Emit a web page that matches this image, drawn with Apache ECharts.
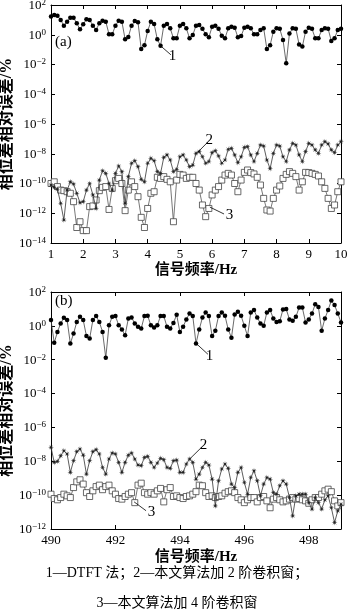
<!DOCTYPE html>
<html><head><meta charset="utf-8">
<script src="https://cdn.jsdelivr.net/npm/echarts@6/dist/echarts.min.js"></script>
<style>html,body{margin:0;padding:0;background:#fff}#c{width:350px;height:615px}</style>
</head><body><div id="c"></div>
<script>
// ---- frequencies (Hz) ----
const freqA = [1,1.1,1.2,1.3,1.4,1.5,1.6,1.7,1.8,1.9,2,2.1,2.2,2.3,2.4,2.5,2.6,2.7,2.8,2.9,3,3.1,3.2,3.3,3.4,3.5,3.6,3.7,3.8,3.9,4,4.1,4.2,4.3,4.4,4.5,4.6,4.7,4.8,4.9,5,5.1,5.2,5.3,5.4,5.5,5.6,5.7,5.8,5.9,6,6.1,6.2,6.3,6.4,6.5,6.6,6.7,6.8,6.9,7,7.1,7.2,7.3,7.4,7.5,7.6,7.7,7.8,7.9,8,8.1,8.2,8.3,8.4,8.5,8.6,8.7,8.8,8.9,9,9.1,9.2,9.3,9.4,9.5,9.6,9.7,9.8,9.9,10];
const freqB = [490,490.1,490.2,490.3,490.4,490.5,490.6,490.7,490.8,490.9,491,491.1,491.2,491.3,491.4,491.5,491.6,491.7,491.8,491.9,492,492.1,492.2,492.3,492.4,492.5,492.6,492.7,492.8,492.9,493,493.1,493.2,493.3,493.4,493.5,493.6,493.7,493.8,493.9,494,494.1,494.2,494.3,494.4,494.5,494.6,494.7,494.8,494.9,495,495.1,495.2,495.3,495.4,495.5,495.6,495.7,495.8,495.9,496,496.1,496.2,496.3,496.4,496.5,496.6,496.7,496.8,496.9,497,497.1,497.2,497.3,497.4,497.5,497.6,497.7,497.8,497.9,498,498.1,498.2,498.3,498.4,498.5,498.6,498.7,498.8,498.9,499];

// ---- panel (a): relative error of phase difference (%) ----
const dtftA = [17,21,19,9.8,4.1,7.6,14,14,5.9,2.3, 5.0,11,9.8,4.1,2.1,5.9,8.9,7.6,1.1,1.07, 4.1,8.9,7.6,0.49,0.71,4.1,8.3,6.8,0.11,0.2, 1.8,7.6,5.2,0.49,0.18,4.1,5.2,2.7,0.58,0.58, 4.1,5.2,2.7,0.58,0.95,4.1,4.5,2.5,1.07,0.68, 3.5,4.1,2.5,0.87,0.58,2.7,3.5,3.0,0.68,0.81, 3.0,3.5,2.7,1.1,1.07,2.1,2.7,0.11,0.2,1.6, 2.7,2.5,0.45,0.012,1.2,2.7,2.5,0.22,0.16,1.6, 3.0,2.5,0.58,0.58,2.1,2.7,2.5,0.38,0.58,2.1,2.5];
const win2A = [7.9e-11,5.5e-11,4.1e-11,4.7e-12,3.5e-13,3.6e-11,1.3e-10,9.3e-11,2.2e-11,5.1e-12, 6.0e-12,3.6e-11,1.0e-10,1.7e-11,2.1e-12,1.7e-10,7.2e-10,4.8e-10,1.0e-10,3.6e-11, 4.8e-10,1.5e-9,6.3e-10,4.7e-12,2.9e-10,2.3e-9,3.4e-9,1.35e-9,1.9e-10,1.3e-10, 2.3e-9,4.9e-9,3.4e-9,6.3e-10,4.8e-10,5.7e-9,8.3e-9,3.8e-9,6.3e-10,8.9e-10, 6.3e-9,8.3e-9,3.8e-9,1.35e-9,1.7e-9,1.07e-8,1.4e-8,6.3e-9,2.3e-9,3.0e-9, 1.2e-8,1.6e-8,7.1e-9,2.3e-9,3.8e-9,2.0e-8,2.3e-8,8.3e-9,2.5e-9,6.3e-9, 2.7e-8,3.0e-8,8.3e-9,3.0e-9,1.07e-8,3.9e-8,3.3e-8,3.8e-9,1.0e-9,1.07e-8, 3.9e-8,3.3e-8,6.3e-9,3.0e-9,1.8e-8,5.0e-8,3.9e-8,8.3e-9,3.0e-9,1.4e-8, 5.0e-8,3.9e-8,1.8e-8,1.07e-8,3.9e-8,6.5e-8,4.6e-8,1.8e-8,1.2e-8,3.9e-8,6.5e-8];
const win4A = [1.0e-10,1.3e-10,6.2e-11,3.6e-11,3.3e-11,2.8e-11,2.2e-11,6.0e-12,1.1e-13,2.7e-13, 6.8e-14,6.8e-14,2.8e-12,3.1e-12,7.8e-12,3.3e-11,5.5e-11,6.2e-11,1.8e-12,4.7e-11, 1.55e-10,2.2e-10,1.0e-10,1.5e-12,3.6e-11,1.3e-10,6.2e-11,1.3e-11,5.3e-13,1.1e-13, 2.1e-12,2.2e-11,2.8e-11,2.6e-10,2.2e-10,2.9e-10,1.9e-10,1.3e-10,2.7e-13,1.7e-10, 4.1e-10,3.7e-10,2.2e-10,2.6e-10,2.6e-10,1.0e-10,3.6e-11,3.6e-12,5.9e-13,2.1e-12, 1.7e-11,3.6e-11,6.2e-11,1.7e-10,3.7e-10,4.8e-10,3.7e-10,1.0e-10,2.8e-11,1.7e-10, 5.6e-10,8.1e-10,5.4e-10,4.4e-10,2.6e-10,7.9e-11,1.0e-11,1.65e-12,1.4e-12,1.0e-11, 3.6e-11,6.8e-11,2.2e-10,4.1e-10,6.3e-10,4.8e-10,2.9e-10,3.6e-11,1.3e-10,5.6e-10, 5.4e-10,4.8e-10,4.1e-10,3.2e-10,1.3e-10,4.7e-11,1.0e-11,2.1e-12,3.6e-12,2.8e-11,1.3e-10];

// ---- panel (b) ----
const dtftB = [2.2,0.099,0.44,1.4,3.0,2.2,0.09,0.35,1.7,3.4, 2.2,0.25,0.18,2.2,3.8,1.7,0.44,0.013,1.1,3.4, 3.8,1.1,0.61,0.28,2.7,3.1,1.4,0.88,0.70,3.8, 3.9,1.1,0.80,1.1,3.8,3.8,0.88,0.70,1.5,4.5, 0.44,0.88,2.4,5.4,3.8,0.09,0.61,3.1,6.2,3.8, 0.25,0.51,3.8,6.2,3.9,0.61,0.20,4.7,6.8,3.9, 1.0,0.25,6.2,8.6,3.1,1.4,1.0,6.2,8.6,2.7, 1.7,1.9,9.4,9.8,2.4,2.0,3.4,12,12,1.6, 2.4,5.4,19,13,0.51,2.7,8.6,31,17,5.4,1.6];
const win2B = [6.7e-8,8.6e-9,9.9e-9,2.1e-8,4.2e-8,2.7e-8,2.2e-9,1.08e-8,3.7e-8,5.3e-8, 2.3e-8,1.75e-9,1.08e-8,3.7e-8,4.9e-8,2.7e-8,4.3e-9,1.75e-9,1.36e-8,3.1e-8, 2.7e-8,8.6e-9,2.2e-9,8.6e-9,2.3e-8,3.1e-8,1.36e-8,6.0e-9,5.5e-9,1.7e-8, 1.95e-8,8.6e-9,4.3e-9,7.9e-9,1.5e-8,1.24e-8,4.3e-9,3.8e-9,1.08e-8,1.18e-8, 2.2e-9,2.2e-9,6.9e-9,1.36e-8,8.6e-9,8.8e-10,1.75e-9,4.3e-9,8.6e-9,6.0e-9, 8.8e-10,2.3e-11,7.0e-10,3.5e-9,6.9e-9,3.8e-9,4.5e-10,2.8e-10,2.2e-9,4.3e-9, 5.6e-10,1.14e-10,1.1e-9,2.75e-9,7.0e-10,9.1e-11,4.5e-10,1.1e-9,8.8e-10,1.4e-10, 1.14e-10,3.6e-10,7.0e-10,4.5e-10,7.2e-11,5.9e-12,9.1e-11,1.14e-10,1.14e-10,1.14e-10, 3.6e-11,1.5e-11,7.2e-11,3.6e-11,1.5e-11,5.3e-11,9.1e-11,1.8e-11,2.4e-12,1.17e-11,2.9e-11];
const win4B = [1.14e-10,6.3e-11,5.3e-11,7.2e-11,1.14e-10,9.1e-11,7.2e-11,2.8e-10,6.1e-10,8.1e-10, 4.5e-10,1.4e-10,8.3e-11,1.8e-10,3.2e-10,3.9e-10,2.1e-10,3.2e-10,3.9e-10,1.8e-10, 1.14e-10,6.3e-11,5.8e-11,8.3e-11,1.14e-10,1.4e-10,3.6e-11,3.9e-10,5.1e-10,1.4e-10, 1.14e-10,1.4e-10,1.14e-10,1.8e-10,2.5e-10,4.0e-11,2.1e-10,2.8e-10,8.3e-11,9.1e-11, 7.2e-11,6.3e-11,8.3e-11,9.1e-11,1.14e-10,1.6e-10,3.9e-10,3.6e-10,1.4e-10,8.3e-11, 9.1e-11,7.2e-11,8.3e-11,9.1e-11,1.3e-10,1.6e-10,1.8e-10,1.4e-10,7.2e-11,5.3e-11, 3.6e-11,5.3e-11,7.2e-11,7.2e-11,4.0e-11,7.2e-11,8.3e-11,4.6e-11,1.8e-11,5.8e-11, 7.2e-11,5.3e-11,4.0e-11,4.6e-11,5.8e-11,7.2e-11,5.8e-11,6.3e-11,5.3e-11,4.6e-11, 3.3e-11,5.3e-11,7.2e-11,7.2e-11,1.14e-10,1.8e-10,2.25e-10,1.6e-10,4.6e-11,2.3e-11,3.6e-11];

// ---- leader-line annotations (data coords: from point -> to label) ----
const annotA = [
  {text:'1', series:0, from:[4.4,0.18], to:[4.72,0.045]},
  {text:'2', series:1, from:[5.56,1.3e-8], to:[5.87,6.2e-8]},
  {text:'3', series:2, from:[5.93,2.6e-12], to:[6.37,8.9e-13]}
];
const annotB = [
  {text:'1', series:0, from:[494.5,0.093], to:[494.87,0.021]},
  {text:'2', series:1, from:[494.31,1.4e-8], to:[494.69,7.2e-8]},
  {text:'3', series:2, from:[492.58,4.0e-11], to:[492.95,1.2e-11]}
];

// ---- texts ----
const xName = '信号频率/Hz';
const yName = '相位差相对误差/%';
const caption1 = '1—DTFT 法；2—本文算法加 2 阶卷积窗；';
const caption2 = '3—本文算法加 4 阶卷积窗';

const serif = '"Liberation Serif","Times New Roman",serif';
const cjk = '"Liberation Serif","Noto Sans CJK SC",serif';

function pairs(xs, ys){ return xs.map((x,i)=>[x, ys[i]]); }
function powLabel(v){
  const e = Math.round(Math.log10(v));
  return '{b|10}{s|' + (e < 0 ? '\u2212' + (-e) : e) + '}';
}
const richLbl = {
  b:{fontSize:13, fontFamily:serif, color:'#000', verticalAlign:'bottom', lineHeight:14},
  s:{fontSize:9, fontFamily:serif, color:'#000', verticalAlign:'top', lineHeight:14}
};
const lineCol = '#000';

function xAx(grid, min, max, interval, pos, gap, showMax){
  return {
    gridIndex:grid, type:'value', min:min, max:max, interval:interval, position:pos,
    axisLine:{onZero:false, lineStyle:{color:lineCol, width:1}},
    axisTick:{show:true, inside:true, length:4, lineStyle:{color:lineCol, width:1}},
    axisLabel: pos === 'bottom' ? {show:true, margin:5, fontSize:13, fontFamily:serif, color:'#000', showMaxLabel:showMax, hideOverlap:false} : {show:false},
    splitLine:{show:false},
    name: pos === 'bottom' ? xName : '', nameLocation:'middle', nameGap:gap, nameMoveOverlap:false,
    nameTextStyle:{fontSize:15, fontWeight:'bold', fontFamily:cjk, color:'#000'}
  };
}
function yAx(grid, min, max, split, pos){
  return {
    gridIndex:grid, type:'log', logBase:10, min:min, max:max, splitNumber:split, interval:2, position:pos,
    axisLine:{onZero:false, lineStyle:{color:lineCol, width:1}},
    axisTick:{show:true, inside:true, length:4, lineStyle:{color:lineCol, width:1}},
    minorTick:{show:false},
    axisLabel: pos === 'left' ? {show:true, margin:5, formatter:powLabel, rich:richLbl, hideOverlap:false, showMinLabel:true, showMaxLabel:true} : {show:false},
    splitLine:{show:false},
    name: pos === 'left' ? yName : '', nameLocation:'middle', nameGap:36, nameMoveOverlap:false,
    nameTextStyle:{fontSize:16, fontWeight:'bold', fontFamily:cjk, color:'#000'}
  };
}

const starPath = 'path://M20,10 L12.77,11.15 L17.07,17.07 L11.15,12.77 L10,20 L8.85,12.77 L2.93,17.07 L7.23,11.15 L0,10 L7.23,8.85 L2.93,2.93 L8.85,7.23 L10,0 L11.15,7.23 L17.07,2.93 L12.77,8.85 Z';

function markFor(annots, idx){
  const list = annots.filter(a => a.series === idx);
  if (!list.length) return undefined;
  return {
    silent:true, symbol:['none','none'], animation:false,
    lineStyle:{color:'#000', width:0.8, type:'solid'},
    label:{show:true, position:'end', distance:2, fontSize:15, fontFamily:serif, color:'#000', formatter: p => p.name},
    data: list.map(a => [{coord:a.from, name:a.text}, {coord:a.to}])
  };
}

function seriesFor(xi, yi, xs, s1, s2, s3, annots){
  return [
    {type:'line', xAxisIndex:xi, yAxisIndex:yi, data:pairs(xs,s1), symbol:'circle', symbolSize:4.5, showAllSymbol:true,
     lineStyle:{color:'#444', width:0.8}, itemStyle:{color:'#000'}, z:5, animation:false, markLine:markFor(annots,0)},
    {type:'line', xAxisIndex:xi, yAxisIndex:yi, data:pairs(xs,s2), symbol:starPath, symbolSize:6, showAllSymbol:true,
     lineStyle:{color:'#333', width:0.8}, itemStyle:{color:'#222'}, z:4, animation:false, markLine:markFor(annots,1)},
    {type:'line', xAxisIndex:xi, yAxisIndex:yi, data:pairs(xs,s3), symbol:'rect', symbolSize:6, showAllSymbol:true,
     lineStyle:{color:'#555', width:0.8}, itemStyle:{color:'#fff', borderColor:'#444', borderWidth:0.8}, z:3, animation:false, markLine:markFor(annots,2)}
  ];
}

const chart = echarts.init(document.getElementById('c'), null, {renderer:'canvas'});
chart.setOption({
  backgroundColor:'#fff',
  animation:false,
  grid:[
    {left:51, top:5, width:290, height:238, containLabel:false, outerBoundsMode:'none'},
    {left:51, top:292, width:290, height:237, containLabel:false, outerBoundsMode:'none'}
  ],
  xAxis:[
    xAx(0, 1, 10, 1, 'bottom', 20, true),
    xAx(0, 1, 10, 1, 'top', 0, true),
    xAx(1, 490, 499, 2, 'bottom', 21, false),
    xAx(1, 490, 499, 2, 'top', 0, false)
  ],
  yAxis:[
    yAx(0, 1e-14, 1e2, 8, 'left'),
    yAx(0, 1e-14, 1e2, 8, 'right'),
    yAx(1, 1e-12, 1e2, 7, 'left'),
    yAx(1, 1e-12, 1e2, 7, 'right')
  ],
  series:[].concat(
    seriesFor(0, 0, freqA, dtftA, win2A, win4A, annotA),
    seriesFor(2, 2, freqB, dtftB, win2B, win4B, annotB)
  ),
  graphic:[
    {type:'text', left:55, top:35, style:{text:'(a)', font:'15px "Liberation Serif"', fill:'#000'}},
    {type:'text', left:55, top:294, style:{text:'(b)', font:'15px "Liberation Serif"', fill:'#000'}},
    {type:'text', x:177, y:573, style:{text:caption1, font:'14px "Liberation Serif","Noto Sans CJK SC"', fill:'#000', align:'center', verticalAlign:'middle'}},
    {type:'text', x:177, y:603, style:{text:caption2, font:'14px "Liberation Serif","Noto Sans CJK SC"', fill:'#000', align:'center', verticalAlign:'middle'}}
  ]
});
</script>
</body></html>
